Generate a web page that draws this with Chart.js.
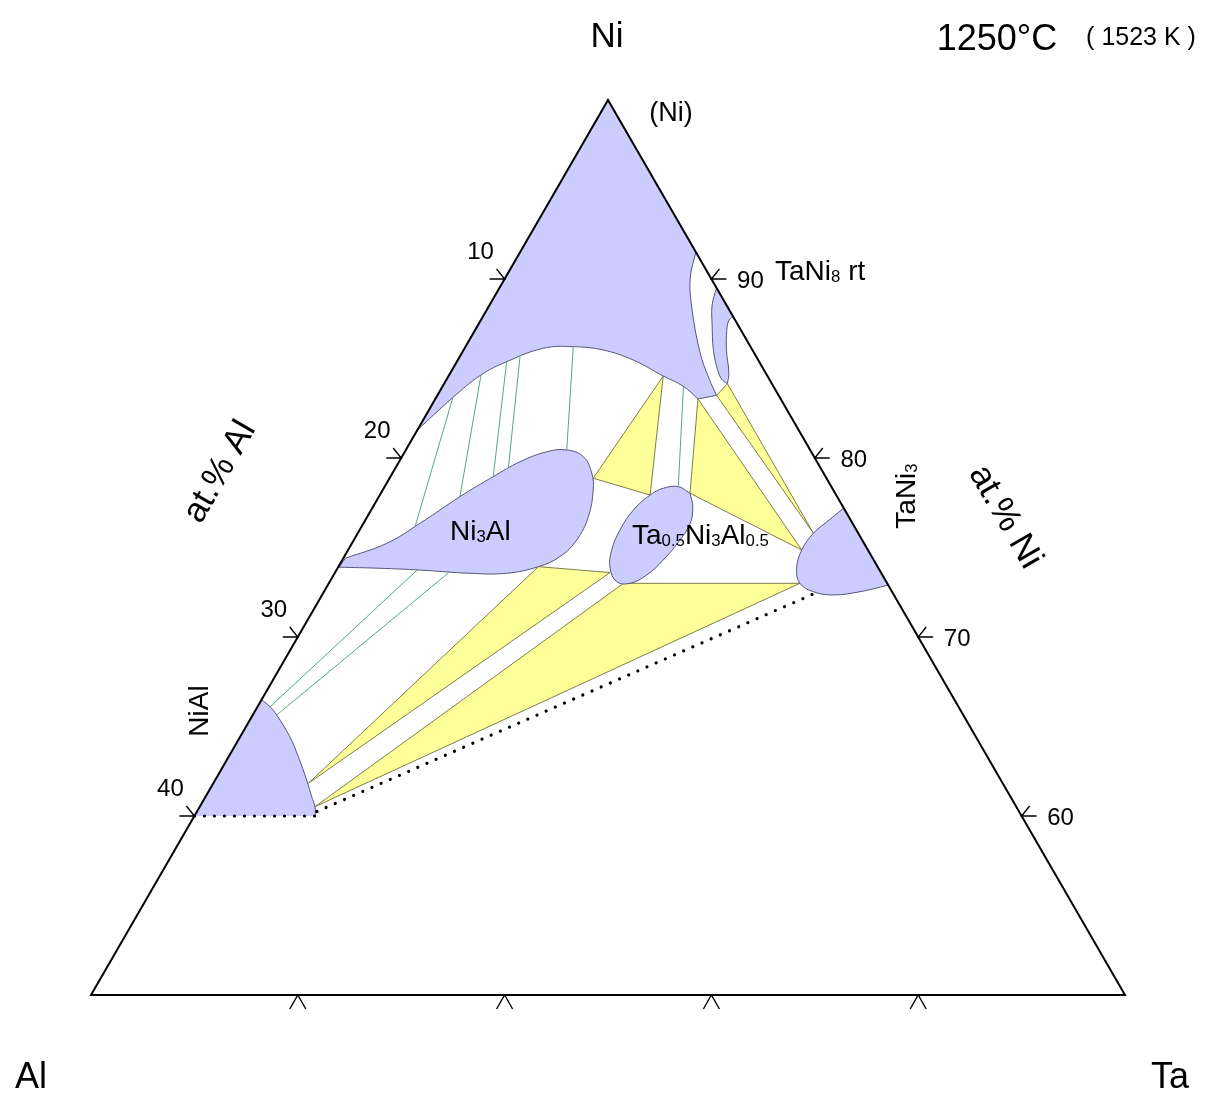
<!DOCTYPE html>
<html><head><meta charset="utf-8">
<script src="https://cdn.jsdelivr.net/npm/chart.js@4.4.0/dist/chart.umd.min.js"></script>
<style>html,body{margin:0;padding:0;background:#fff}#wrap{width:1206px;height:1108px;position:relative}</style>
</head><body><div id="wrap"><canvas id="c"></canvas></div>
<script>
// All compositions are [at.% Ta, at.% Ni]  (at.% Al = 100 - Ta - Ni)
const FRAME = [[0,50],[0,100],[50,50],[0,50],[0,100]];

// (Ni) solid solution
const NI_SS_EDGE  = [[0,100],[8.5,91.5]];
const NI_SS_RIGHT = [[8.5,91.5],[8.93,90.1],[9.73,88.6],[11.5,85.9],[12.7,84.4],[13.5,83.5]];
const NI_SS_NOTCH = [[13.5,83.5],[12.7,83.3]];
const NI_SS_LOWER = [[12.7,83.3],[11.65,84.0],[10.38,84.58],[8.49,85.47],[6.76,86.03],[5.21,86.22],[3.81,86.13],[2.41,85.38],[1.54,84.64],[0.81,83.38],[0,81.56]];
const NI_SS_SIDE  = [[0,81.56],[0,100]];

// TaNi8 rt
const TANI8_EDGE  = [[12.1,87.9],[10.5,89.5]];
const TANI8_LEFT  = [[10.5,89.5],[10.76,88.55],[11.32,87.43],[12.1,86.0],[12.86,84.9],[13.3,84.4],[13.7,84.15]];
const TANI8_RIGHT = [[13.7,84.15],[13.47,84.75],[12.73,86.0],[12.17,87.15],[12.0,87.7],[12.1,87.9]];

// TaNi3
const TANI3_EDGE  = [[27.1,72.9],[22.8,77.2]];
const TANI3_CURVE = [[22.8,77.2],[22.32,76.35],[22.03,75.8],[21.94,74.86],[22.2,73.84],[22.78,73.0],[23.66,72.53],[24.72,72.35],[25.92,72.53],[27.1,72.9]];

// NiAl
const NIAL_SIDE  = [[0,60],[0,66.5]];
const NIAL_CURVE = [[0,66.5],[0.61,66.1],[1.16,65.64],[2.4,64.43],[3.37,63.31],[4.43,62.0],[5.13,61.08],[5.57,60.52],[5.85,60]];
const NIAL_BASE  = [[5.85,60],[0,60]];

// Ni3Al
const NI3AL_TIP   = [[0.05,73.9],[0.1,74.4]];
const NI3AL_CURVE = [[0.1,74.4],[1.68,75.23],[2.73,76.35],[3.92,77.84],[4.97,78.96],[5.85,79.79],[6.87,80.35],[7.78,80.45],[8.78,80.07],[9.64,79.15],[10.18,78.21],[10.69,76.72],[10.78,75.42],[10.43,74.49],[9.67,73.93],[8.32,73.56],[6.55,73.56],[4.04,73.74],[2.05,73.84],[0.05,73.9]];

// Ta0.5Ni3Al0.5
const TAU_CURVE = [[14.95,78.03],[15.46,77.28],[15.8,76.35],[15.77,75.42],[15.52,74.3],[15.14,73.46],[14.56,73.0],[13.88,73.09],[13.18,73.84],[12.75,74.86],[12.59,75.98],[12.68,77.09],[13.07,77.93],[13.52,78.31],[14.2,78.4],[14.95,78.03]];

// three-phase triangles
const TRI_NI_TANI8_TANI3  = [[13.5,83.5],[13.7,84.15],[22.03,75.8]];
const TRI_NI_TAU_TANI3    = [[12.7,83.3],[14.95,78.03],[21.94,74.86]];
const TRI_NI_NI3AL_TAU    = [[10.38,84.58],[9.85,78.87],[13.07,77.93]];
const TRI_NI3AL_TAU_NIAL  = [[9.67,73.93],[13.3,73.6],[4.6,61.83]];
const TRI_TAU_TANI3_NIAL  = [[14.25,73.0],[22.78,73.0],[5.57,60.52]];

// tie lines
const TIES_NI_NI3AL = [
  [[5.21,86.22],[7.78,80.45]],
  [[2.92,85.65],[5.46,79.44]],
  [[2.41,85.38],[4.97,78.96]],
  [[1.54,84.64],[3.92,77.84]],
  [[0.81,83.38],[2.59,76.16]]
];
const TIES_NI_TAU = [[[11.65,84.0],[14.2,78.4]]];
const TIES_NI3AL_NIAL = [[[0.61,66.1],[3.9,73.74]],[[1.16,65.64],[5.5,73.6]]];

// dotted boundaries
const DOTTED_BASE = [[0,60],[5.85,60]];
const DOTTED_DIAG = [[5.8,60.25],[23.8,72.45]];

// axis ticks
const AL_TICKS = [10,20,30,40];
const NI_TICKS = [90,80,70,60];
const TA_TICKS = [10,20,30,40];

const FONT = '"Liberation Sans", Arial, Helvetica, sans-serif';
const BLUE = '#ccccff', BLUE_LINE = '#55557a';
const YELLOW = '#ffff99', YELLOW_LINE = '#6e6e3c';
const TIE = '#3f9d78';

function toXY(p){ return {x: p[0] + (p[1]-50)/2, y: p[1]}; }
function join(pieces){ let out=[]; pieces.forEach(pc => out = out.concat(pc)); return out; }
function ds(points, o){
  return Object.assign({data: points.map(toXY), showLine: true, pointRadius: 0, pointHoverRadius: 0,
    borderWidth: 1, fill: false, tension: 0, clip: false, cubicInterpolationMode: 'default',
    borderJoinStyle: 'round'}, o);
}
function tri(t){ return ds(t.concat([t[0]]), {fill:'shape', backgroundColor: YELLOW, borderColor: YELLOW_LINE, borderWidth: 0.9, order: 50}); }

const datasets = [];
[TRI_NI_TANI8_TANI3, TRI_NI_TAU_TANI3, TRI_NI_NI3AL_TAU, TRI_NI3AL_TAU_NIAL, TRI_TAU_TANI3_NIAL].forEach(t => datasets.push(tri(t)));
const blueOpts = {fill:'shape', backgroundColor: BLUE, borderColor: BLUE_LINE, borderWidth: 1, tension: 0.4, order: 40};
datasets.push(ds(join([NI_SS_EDGE, NI_SS_RIGHT, NI_SS_NOTCH, NI_SS_LOWER, NI_SS_SIDE]), blueOpts));
datasets.push(ds(join([TANI8_EDGE, TANI8_LEFT, TANI8_RIGHT]), blueOpts));
datasets.push(ds(join([TANI3_EDGE, TANI3_CURVE]), blueOpts));
datasets.push(ds(join([NI3AL_TIP, NI3AL_CURVE]), blueOpts));
datasets.push(ds(TAU_CURVE, blueOpts));
datasets.push(ds(join([NIAL_SIDE, NIAL_CURVE, NIAL_BASE]), Object.assign({}, blueOpts, {borderWidth: 0})));
datasets.push(ds(NIAL_CURVE, {borderColor: BLUE_LINE, tension: 0.4, order: 39}));
TIES_NI_NI3AL.concat(TIES_NI_TAU, TIES_NI3AL_NIAL).forEach(t => datasets.push(ds(t, {borderColor: TIE, borderWidth: 0.9, order: 30})));
[DOTTED_BASE, DOTTED_DIAG].forEach(d => datasets.push(ds(d, {borderColor: '#000', borderWidth: 3.2, borderDash: [0.01, 10], borderCapStyle: 'round', order: 20})));
datasets.push(ds(FRAME, {borderColor: '#000', borderWidth: 2, borderJoinStyle: 'miter', order: 0}));

function px(chart, ta, ni){
  const p = toXY([ta, ni]);
  return [chart.scales.x.getPixelForValue(p.x), chart.scales.y.getPixelForValue(p.y)];
}
function rich(ctx, parts, x, y, size, align){
  const sub = size*0.6;
  let w = 0;
  parts.forEach(p => { ctx.font = (p[1]?sub:size)+'px '+FONT; w += ctx.measureText(p[0]).width; });
  let cx = align === 'center' ? x - w/2 : x;
  ctx.textAlign = 'left'; ctx.textBaseline = 'alphabetic';
  parts.forEach(p => {
    ctx.font = (p[1]?sub:size)+'px '+FONT;
    ctx.fillText(p[0], cx, p[1] ? y + size*0.08 : y);
    cx += ctx.measureText(p[0]).width;
  });
}
function plain(ctx, text, x, y, size, align, baseline){
  ctx.font = size+'px '+FONT; ctx.textAlign = align || 'center'; ctx.textBaseline = baseline || 'alphabetic';
  ctx.fillText(text, x, y);
}

const decor = {
  id: 'decor',
  afterDraw(chart){
    const ctx = chart.ctx;
    ctx.save();
    ctx.strokeStyle = '#000'; ctx.fillStyle = '#000'; ctx.lineWidth = 1.4;
    AL_TICKS.forEach(a => {
      const [x,y] = px(chart, 0, 100-a);
      ctx.beginPath(); ctx.moveTo(x-15,y); ctx.lineTo(x,y); ctx.lineTo(x-8,y-10); ctx.stroke();
      plain(ctx, String(a), x-24, y-27, 24, 'center', 'middle');
    });
    NI_TICKS.forEach(n => {
      const [x,y] = px(chart, 100-n, n);
      ctx.beginPath(); ctx.moveTo(x+15,y); ctx.lineTo(x,y); ctx.lineTo(x+8,y-10); ctx.stroke();
      plain(ctx, String(n), x+39, y+2, 24, 'center', 'middle');
    });
    TA_TICKS.forEach(t => {
      const [x,y] = px(chart, t, 50);
      ctx.beginPath(); ctx.moveTo(x-8,y+14); ctx.lineTo(x,y); ctx.lineTo(x+8,y+14); ctx.stroke();
    });
    plain(ctx, 'Ni', 607, 47, 35);
    plain(ctx, 'Al', 31, 1088, 36);
    plain(ctx, 'Ta', 1170, 1088, 36);
    plain(ctx, '1250°C', 997, 50, 36);
    plain(ctx, '( 1523 K )', 1141, 45, 25);
    plain(ctx, '(Ni)', 671, 121, 27);
    rich(ctx, [['TaNi',0],['8',1],[' rt',0]], 775, 280, 28, 'left');
    rich(ctx, [['Ni',0],['3',1],['Al',0]], 450, 540, 28, 'left');
    rich(ctx, [['Ta',0],['0.5',1],['Ni',0],['3',1],['Al',0],['0.5',1]], 632, 544, 28, 'left');
    ctx.save(); ctx.translate(915, 496); ctx.rotate(-Math.PI/2);
    rich(ctx, [['TaNi',0],['3',1]], 0, 0, 28, 'center'); ctx.restore();
    ctx.save(); ctx.translate(208, 711); ctx.rotate(-Math.PI/2);
    plain(ctx, 'NiAl', 0, 0, 28); ctx.restore();
    ctx.save(); ctx.translate(220, 472); ctx.rotate(-Math.PI/3);
    plain(ctx, 'at.% Al', 0, 0, 35, 'center', 'middle'); ctx.restore();
    ctx.save(); ctx.translate(1005, 517); ctx.rotate(Math.PI/3);
    plain(ctx, 'at.% Ni', 0, 0, 35, 'center', 'middle'); ctx.restore();
    ctx.restore();
  }
};

new Chart(document.getElementById('c'), {
  type: 'scatter',
  data: {datasets},
  options: {
    responsive: true, maintainAspectRatio: false, animation: false,
    layout: {padding: {left: 91, right: 81, top: 100, bottom: 113}},
    scales: {
      x: {type: 'linear', min: 0, max: 50, display: false},
      y: {type: 'linear', min: 50, max: 100, display: false}
    },
    plugins: {legend: {display: false}, tooltip: {enabled: false}},
    events: []
  },
  plugins: [decor]
});
</script>
</body></html>
